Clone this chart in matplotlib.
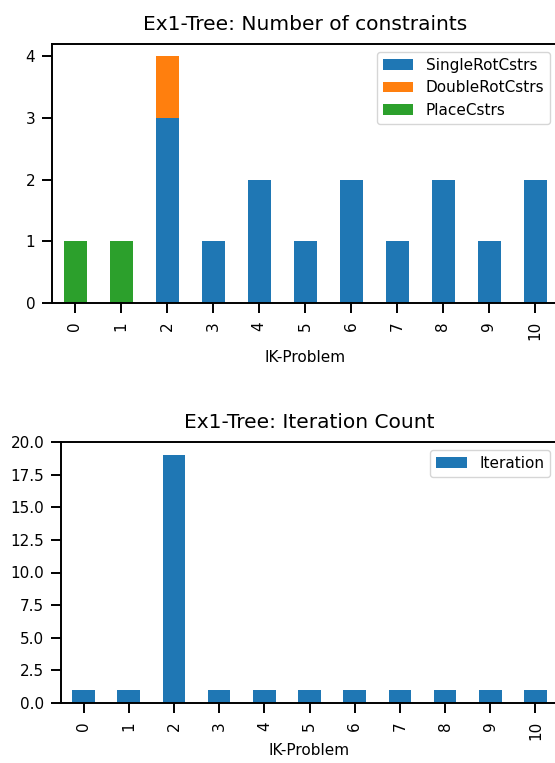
import matplotlib
matplotlib.use("Agg")
import matplotlib.pyplot as plt
import pandas as pd

# data
problems = list(range(11))
single_rot = [0, 0, 3, 1, 2, 1, 2, 1, 2, 1, 2]
double_rot = [0, 0, 1, 0, 0, 0, 0, 0, 0, 0, 0]
place = [1, 1, 0, 0, 0, 0, 0, 0, 0, 0, 0]
iterations = [1, 1, 19, 1, 1, 1, 1, 1, 1, 1, 1]

df_c = pd.DataFrame({"SingleRotCstrs": single_rot,
                     "DoubleRotCstrs": double_rot,
                     "PlaceCstrs": place}, index=problems)
df_c.index.name = "IK-Problem"
df_i = pd.DataFrame({"Iteration": iterations}, index=problems)
df_i.index.name = "IK-Problem"

plt.rcParams.update({
    "axes.linewidth": 1.4,
    "xtick.major.width": 1.4,
    "ytick.major.width": 1.4,
    "xtick.major.size": 7,
    "ytick.major.size": 7,
    "xtick.major.pad": 6,
    "ytick.major.pad": 5,
    "font.size": 11,
    "legend.edgecolor": "#cccccc",
})

fig = plt.figure(figsize=(5.55, 7.63), dpi=100)
ax1 = fig.add_axes([52 / 555, 1 - 303 / 763, 506 / 555, 259 / 763])
ax2 = fig.add_axes([61 / 555, 1 - 703 / 763, 497 / 555, 261 / 763])

df_c.plot.bar(stacked=True, ax=ax1)
ax1.set_title("Ex1-Tree: Number of constraints", fontsize=14.5, pad=10)
ax1.set_xlabel("IK-Problem", fontsize=11, labelpad=7)
ax1.set_ylim(0, 4.2)
ax1.set_yticks([0, 1, 2, 3, 4])
ax1.legend(loc="upper right", fontsize=11)

df_i.plot.bar(ax=ax2)
ax2.set_title("Ex1-Tree: Iteration Count", fontsize=14.5, pad=10)
ax2.set_xlabel("IK-Problem", fontsize=11, labelpad=2)
ax2.set_ylim(0, 20)
ax2.yaxis.set_major_formatter(matplotlib.ticker.FormatStrFormatter("%.1f"))
ax2.legend(loc="upper right", fontsize=11)

for ax in (ax1, ax2):
    ax.tick_params(labelsize=11)

fig.savefig("out.png", dpi=100)
